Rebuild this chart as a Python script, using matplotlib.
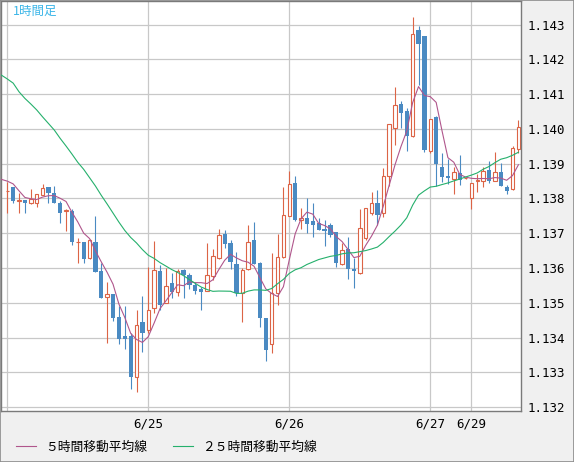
import matplotlib
matplotlib.use("Agg")
import matplotlib.pyplot as plt
from matplotlib.patches import Rectangle
import numpy as np
import pandas as pd

# hourly candles, 6/24 00:00 -> 6/29
opens = [1.13822, 1.13832, 1.13792, 1.13796, 1.13786, 1.13788, 1.13810, 1.13832, 1.13815, 1.13786,
         1.13764, 1.13764, 1.13674, 1.13675, 1.13629, 1.13674, 1.13591, 1.13516, 1.13525, 1.13460,
         1.13404, 1.13404, 1.13287, 1.13445, 1.13421, 1.13484, 1.13591, 1.13500, 1.13556, 1.13530,
         1.13594, 1.13579, 1.13551, 1.13540, 1.13534, 1.13578, 1.13628, 1.13698, 1.13671, 1.13612,
         1.13527, 1.13596, 1.13681, 1.13614, 1.13456, 1.13380, 1.13528, 1.13631, 1.13751, 1.13844,
         1.13737, 1.13743, 1.13736, 1.13729, 1.13713, 1.13724, 1.13704, 1.13611, 1.13654, 1.13596,
         1.13585, 1.13685, 1.13759, 1.13788, 1.13758, 1.13865, 1.14002, 1.14071, 1.14052, 1.13980,
         1.14285, 1.14268, 1.13937, 1.14034, 1.13892, 1.13865, 1.13856, 1.13872, 1.13858, 1.13801,
         1.13849, 1.13850, 1.13882, 1.13850, 1.13875, 1.13832, 1.13826, 1.13942]
highs = [1.13848, 1.13834, 1.13817, 1.13797, 1.13827, 1.13813, 1.13842, 1.13833, 1.13836, 1.13794,
         1.13769, 1.13769, 1.13685, 1.13676, 1.13683, 1.13750, 1.13614, 1.13560, 1.13526, 1.13491,
         1.13491, 1.13413, 1.13479, 1.13519, 1.13604, 1.13679, 1.13609, 1.13600, 1.13586, 1.13598,
         1.13598, 1.13586, 1.13560, 1.13546, 1.13673, 1.13655, 1.13712, 1.13709, 1.13681, 1.13647,
         1.13599, 1.13724, 1.13732, 1.13617, 1.13457, 1.13644, 1.13698, 1.13832, 1.13878, 1.13865,
         1.13772, 1.13801, 1.13788, 1.13743, 1.13737, 1.13730, 1.13705, 1.13671, 1.13688, 1.13629,
         1.13771, 1.13773, 1.13820, 1.13824, 1.13888, 1.14015, 1.14120, 1.14081, 1.14060, 1.14321,
         1.14297, 1.14269, 1.14030, 1.14036, 1.13931, 1.13913, 1.13892, 1.13925, 1.13859, 1.13846,
         1.13871, 1.13892, 1.13908, 1.13933, 1.13903, 1.13839, 1.13951, 1.14026]
lows = [1.13759, 1.13786, 1.13759, 1.13759, 1.13785, 1.13776, 1.13809, 1.13786, 1.13786, 1.13730,
        1.13706, 1.13666, 1.13614, 1.13614, 1.13627, 1.13588, 1.13514, 1.13383, 1.13448, 1.13381,
        1.13367, 1.13252, 1.13244, 1.13359, 1.13413, 1.13470, 1.13479, 1.13498, 1.13514, 1.13519,
        1.13515, 1.13540, 1.13525, 1.13478, 1.13533, 1.13565, 1.13627, 1.13658, 1.13597, 1.13519,
        1.13445, 1.13594, 1.13611, 1.13431, 1.13333, 1.13354, 1.13494, 1.13630, 1.13750, 1.13735,
        1.13712, 1.13700, 1.13688, 1.13708, 1.13662, 1.13690, 1.13604, 1.13610, 1.13567, 1.13542,
        1.13584, 1.13681, 1.13753, 1.13724, 1.13747, 1.13836, 1.13953, 1.14002, 1.13938, 1.13978,
        1.14127, 1.13935, 1.13931, 1.13836, 1.13848, 1.13842, 1.13812, 1.13839, 1.13857, 1.13769,
        1.13820, 1.13832, 1.13844, 1.13849, 1.13836, 1.13812, 1.13824, 1.13930]
closes = [1.13823, 1.13794, 1.13795, 1.13786, 1.13798, 1.13812, 1.13829, 1.13815, 1.13788, 1.13759,
          1.13766, 1.13674, 1.13676, 1.13627, 1.13681, 1.13589, 1.13515, 1.13525, 1.13457, 1.13395,
          1.13397, 1.13287, 1.13436, 1.13414, 1.13478, 1.13594, 1.13494, 1.13547, 1.13532, 1.13592,
          1.13580, 1.13550, 1.13535, 1.13532, 1.13579, 1.13635, 1.13695, 1.13670, 1.13618, 1.13527,
          1.13594, 1.13674, 1.13612, 1.13455, 1.13365, 1.13527, 1.13631, 1.13753, 1.13842, 1.13738,
          1.13743, 1.13728, 1.13724, 1.13709, 1.13707, 1.13696, 1.13615, 1.13652, 1.13596, 1.13591,
          1.13714, 1.13772, 1.13786, 1.13753, 1.13865, 1.14014, 1.14068, 1.14045, 1.13980, 1.14273,
          1.14244, 1.13940, 1.14028, 1.13898, 1.13863, 1.13858, 1.13875, 1.13854, 1.13858, 1.13845,
          1.13853, 1.13878, 1.13850, 1.13875, 1.13837, 1.13822, 1.13946, 1.14005]

# moving-average values before enough candles are on screen (hour -1 onwards)
ma5_head = [1.13855, 1.13850, 1.13842, 1.13822, 1.13803]
ma25_head = [1.14155, 1.14144, 1.14132, 1.14107, 1.14088, 1.14072, 1.14055, 1.14035, 1.14016,
             1.13997, 1.13973, 1.13951, 1.13928, 1.13904, 1.13884, 1.13860, 1.13836, 1.13809,
             1.13784, 1.13758, 1.13732, 1.13708, 1.13688, 1.13672, 1.13653]

day_starts = [0, 24, 48, 72, 79]
day_labels = ["", "6/25", "6/26", "6/27", "6/29"]
y_ticks = [1.132, 1.133, 1.134, 1.135, 1.136, 1.137, 1.138, 1.139, 1.140, 1.141, 1.142, 1.143]

UP = "#dc6446"
DOWN = "#4a8ac2"
MA5_C = "#b0568c"
MA25_C = "#25b06c"
JP = ["Noto Sans CJK JP", "DejaVu Sans"]

n = len(closes)
idx = np.arange(n)
o = np.array(opens)
c = np.array(closes)
up = c >= o

close_s = pd.Series(closes)
ma5 = np.concatenate([ma5_head, close_s.rolling(5).mean().to_numpy()[4:]])
ma25 = np.concatenate([ma25_head, close_s.rolling(25).mean().to_numpy()[24:]])
ma_x = np.arange(-1, n)

fig = plt.figure(figsize=(5.74, 4.62), dpi=100, facecolor="#f0f0f0")
ax = fig.add_axes([1 / 574, 51 / 462, 520 / 574, 410 / 462])
ax.set_facecolor("white")

px = 5.875  # pixels per hour
ax.set_xlim(-1.07, -1.07 + 520 / px)
ax.set_ylim(1.131885, 1.143683)

# grid
for d in day_starts:
    ax.axvline(d, color="#c8c8c8", lw=0.9, zorder=0)
ax.set_yticks(y_ticks)
ax.set_yticklabels([f"{v:.3f}" for v in y_ticks], family="DejaVu Sans Mono", fontsize=9)
ax.yaxis.tick_right()
ax.grid(axis="y", color="#c8c8c8", lw=0.9, zorder=0)
ax.set_axisbelow(True)
ax.set_xticks(day_starts)
ax.set_xticklabels(day_labels, family="DejaVu Sans Mono", fontsize=9)
ax.tick_params(axis="x", length=0, pad=5)
ax.tick_params(axis="y", length=0, pad=4.5)
for s in ax.spines.values():
    s.set_color("#7a7a7a")
    s.set_linewidth(1)

# wicks
colors = np.where(up, UP, DOWN)
ax.vlines(idx, lows, highs, colors=colors, lw=0.8, zorder=2)

# bodies
body_h = np.abs(c - o)
body_b = np.minimum(o, c)
ax.bar(idx[up], body_h[up], bottom=body_b[up], width=0.6,
       facecolor="white", edgecolor=UP, linewidth=0.8, zorder=2)
ax.bar(idx[~up], body_h[~up], bottom=body_b[~up], width=0.72,
       color=DOWN, linewidth=0, zorder=2)

# moving averages
l5, = ax.plot(ma_x, ma5, color=MA5_C, lw=0.8, zorder=3)
l25, = ax.plot(ma_x, ma25, color=MA25_C, lw=0.8, zorder=3)

ax.text(12 / 520, 1 - 10 / 410, "1時間足", transform=ax.transAxes, color="#3cb6e8",
        fontsize=9, family=JP, va="center", ha="left")

fig.legend([l5, l25], ["５時間移動平均線", "２５時間移動平均線"],
           loc="center left", bbox_to_anchor=(16 / 574, 15 / 462), ncol=2,
           frameon=False, handlelength=1.6, handletextpad=0.65, columnspacing=2.05,
           borderpad=0, borderaxespad=0, prop={"family": JP, "size": 9.2})

fig.patches.append(Rectangle((0, 0), 1, 1, transform=fig.transFigure, fill=False,
                             edgecolor="#8c8c8c", lw=1.2))

fig.savefig("out.png", dpi=100, facecolor=fig.get_facecolor())
